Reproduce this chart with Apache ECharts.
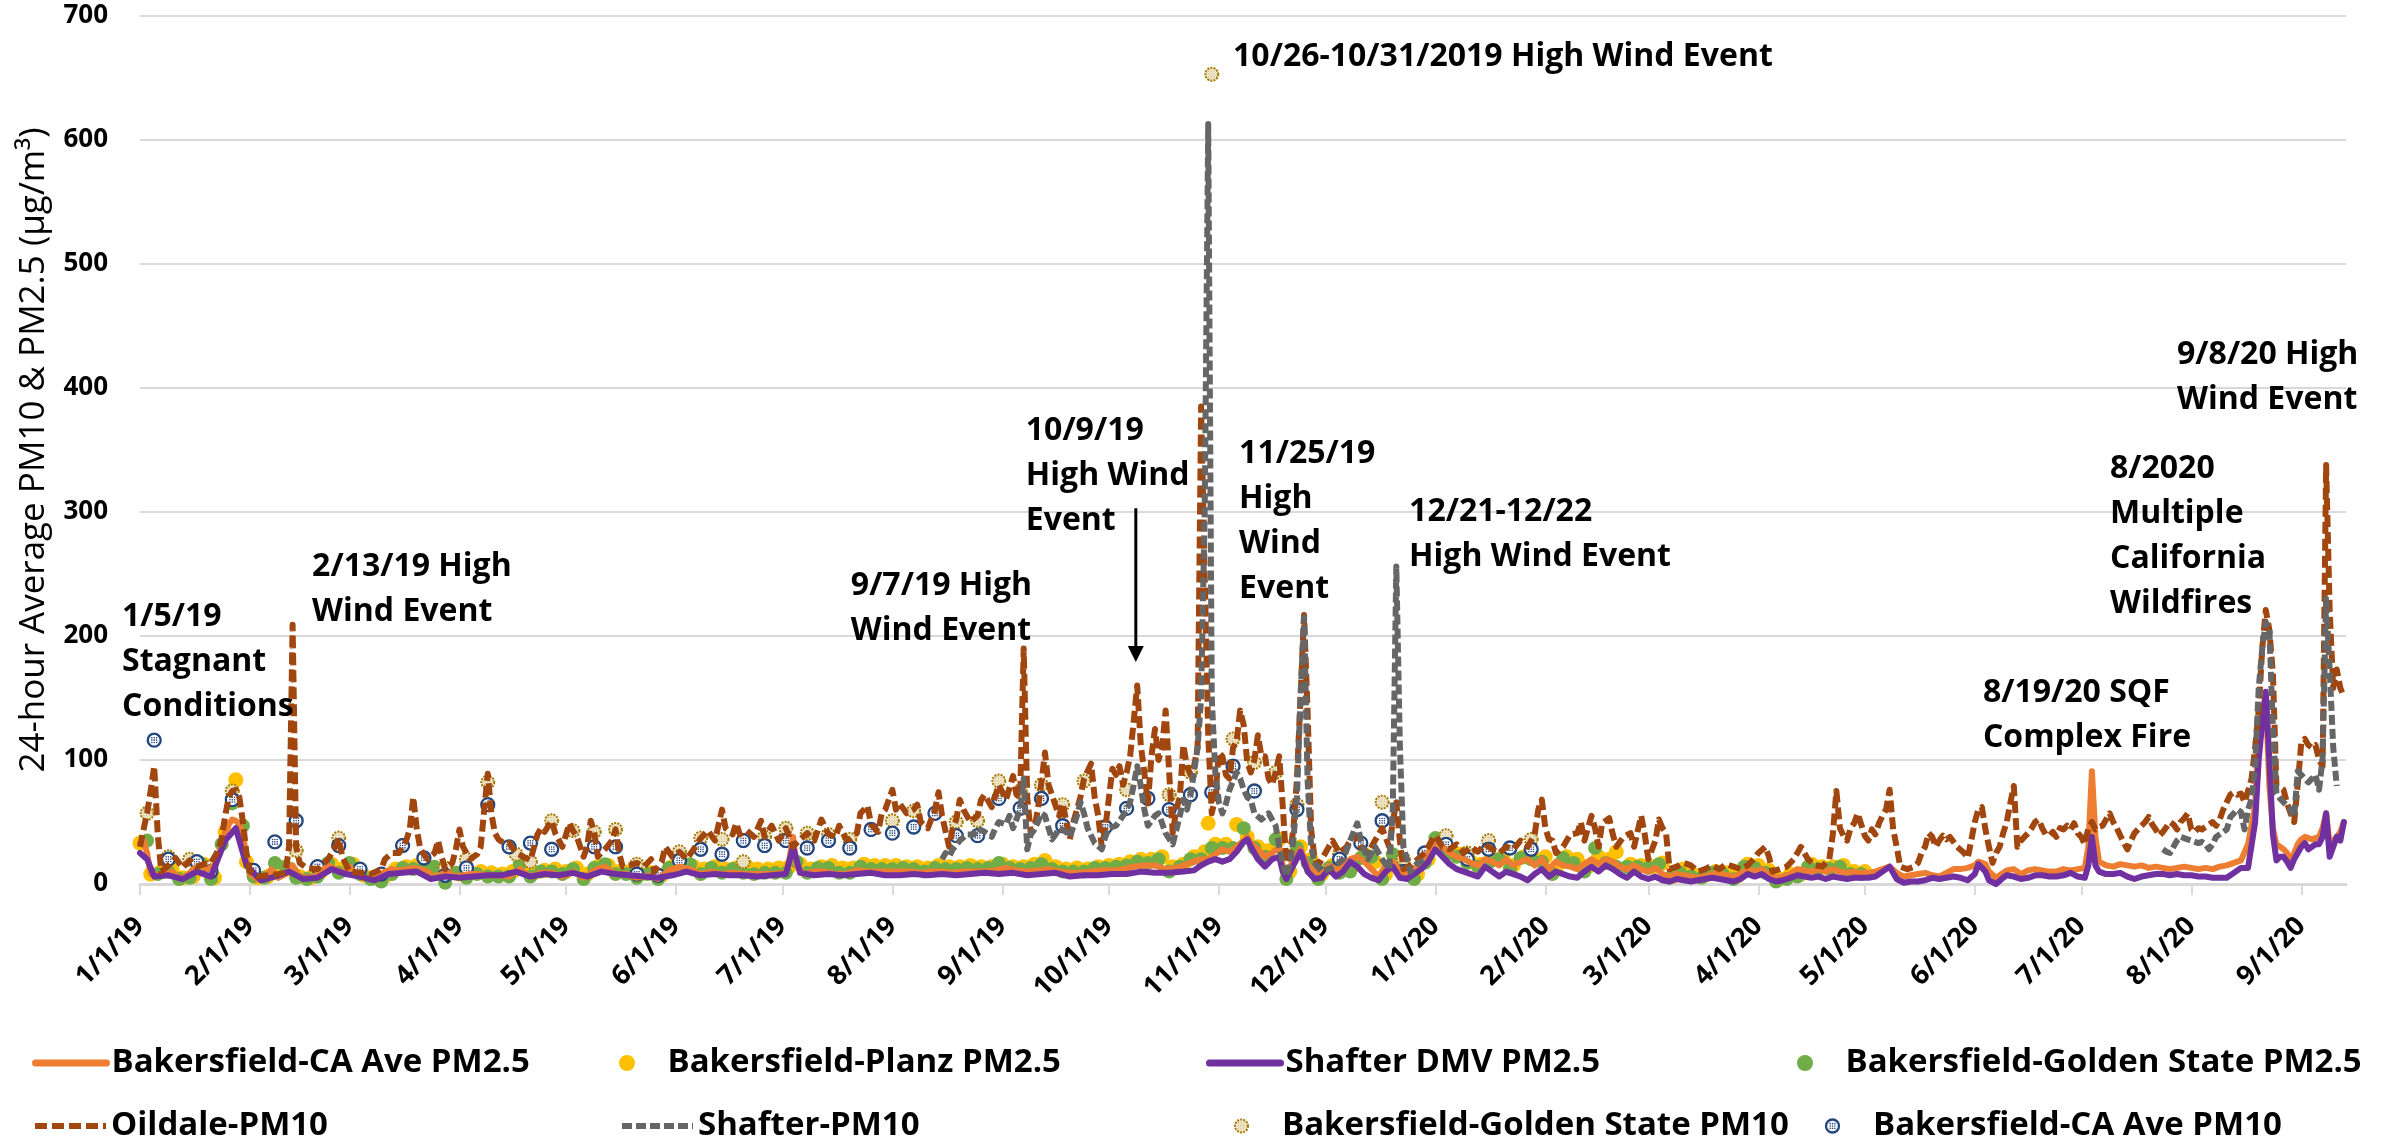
<!DOCTYPE html>
<html><head><meta charset="utf-8">
<script src="https://cdn.jsdelivr.net/npm/echarts@6/dist/echarts.min.js"></script>
<style>html,body{margin:0;padding:0;background:#fff}#c{width:2394px;height:1143px}</style>
</head><body><div id="c"></div>
<script>
// x values: days since 1/1/2019 (day 0 = 1/1/19)
const tickDays = [0,31,59,90,120,151,181,212,243,273,304,334,365,396,425,456,486,517,547,578,609];
const tickLabels = ['1/1/19','2/1/19','3/1/19','4/1/19','5/1/19','6/1/19','7/1/19','8/1/19','9/1/19','10/1/19','11/1/19','12/1/19','1/1/20','2/1/20','3/1/20','4/1/20','5/1/20','6/1/20','7/1/20','8/1/20','9/1/20'];

const caAvePM25 = [[0,33],[1,35],[2,25],[3,8],[5,7],[7,8],[9,10],[11,5],[13,6],[15,12],[17,15],[19,12],[21,15],[22,22],[23,32],[24,42],[25,48],[26,52],[27,51],[28,48],[29,41],[30,20],[31,8],[33,4],[35,5],[37,12],[39,5],[41,8],[43,15],[45,6],[47,5],[49,6],[51,10],[53,15],[55,12],[57,9],[59,14],[61,8],[63,5],[65,5],[67,6],[69,10],[71,12],[73,11],[75,12],[77,13],[79,12],[81,10],[83,5],[85,8],[87,9],[89,6],[91,7],[93,8],[95,8],[98,7],[101,7],[104,6],[107,12],[110,6],[113,9],[116,9],[119,6],[122,10],[125,5],[128,11],[131,14],[134,8],[137,8],[140,5],[143,7],[146,4],[149,11],[152,14],[155,12],[158,8],[161,10],[164,8],[167,9],[170,8],[173,8],[176,8],[179,8],[182,9],[183,20],[184,38],[185,15],[187,8],[190,10],[193,10],[196,8],[199,8],[202,11],[205,10],[208,10],[211,10],[214,10],[217,10],[220,9],[223,10],[226,10],[229,9],[232,10],[235,10],[238,10],[241,11],[244,13],[247,11],[250,10],[253,11],[256,12],[259,10],[262,9],[265,9],[268,10],[271,11],[274,11],[277,12],[280,14],[283,15],[286,15],[289,12],[292,13],[295,16],[297,18],[299,20],[301,20],[303,24],[305,28],[307,26],[309,30],[311,35],[312,38],[313,33],[315,28],[317,22],[319,25],[321,30],[322,15],[323,6],[325,20],[327,28],[329,15],[331,10],[333,8],[335,15],[337,12],[339,14],[341,20],[343,22],[345,18],[347,12],[349,6],[351,15],[353,18],[355,10],[357,8],[359,12],[361,18],[363,25],[365,35],[367,30],[369,25],[371,22],[373,20],[375,17],[377,15],[379,20],[381,18],[383,15],[385,20],[387,15],[389,18],[391,20],[393,15],[395,20],[397,12],[399,18],[401,15],[403,14],[405,12],[407,16],[409,20],[411,16],[413,20],[415,18],[417,14],[419,12],[421,15],[423,12],[425,10],[427,13],[429,8],[431,6],[433,8],[435,7],[437,6],[439,5],[441,6],[443,8],[445,9],[447,7],[449,6],[451,8],[453,12],[455,10],[457,12],[459,7],[461,5],[463,6],[465,8],[467,12],[469,11],[471,10],[473,12],[475,10],[477,12],[479,10],[481,9],[483,10],[485,9],[487,9],[489,10],[491,12],[493,14],[495,9],[497,6],[499,7],[501,8],[503,9],[505,7],[507,6],[509,9],[511,12],[513,12],[515,13],[517,15],[518,18],[520,16],[521,10],[523,5],[525,9],[526,11],[528,12],[530,8],[532,11],[534,12],[536,11],[538,10],[540,10],[542,12],[544,11],[546,12],[548,13],[549,30],[550,91],[551,38],[552,18],[554,15],[556,14],[558,16],[560,15],[562,14],[564,15],[566,13],[568,14],[570,13],[572,12],[574,13],[576,14],[578,13],[580,12],[582,13],[584,12],[586,14],[588,15],[590,17],[592,19],[594,32],[596,63],[597,126],[598,140],[599,151],[600,79],[601,45],[602,32],[603,30],[604,28],[605,25],[606,19],[607,25],[608,32],[609,36],[610,38],[611,37],[612,36],[613,37],[614,38],[615,45],[616,57],[617,32],[618,35],[619,38],[620,42],[621,50]];

const planzPM25 = [[0,33],[3,8],[6,10],[9,12],[12,5],[15,6],[18,16],[21,5],[24,42],[27,84],[30,18],[33,5],[36,6],[39,14],[42,12],[45,6],[48,5],[51,10],[54,16],[57,12],[60,16],[63,7],[66,5],[69,6],[72,12],[75,14],[78,15],[81,12],[84,10],[87,9],[90,8],[93,9],[96,10],[99,9],[102,8],[105,10],[108,14],[111,9],[114,11],[117,12],[120,10],[123,13],[126,8],[129,14],[132,15],[135,10],[138,10],[141,8],[144,9],[147,7],[150,14],[153,16],[156,14],[159,12],[162,14],[165,12],[168,13],[171,14],[174,12],[177,12],[180,13],[183,14],[186,16],[189,12],[192,14],[195,15],[198,13],[201,13],[204,16],[207,15],[210,15],[213,15],[216,14],[219,14],[222,13],[225,15],[228,14],[231,14],[234,15],[237,14],[240,14],[243,16],[246,14],[249,14],[252,16],[255,19],[258,14],[261,12],[264,13],[267,12],[270,14],[273,15],[276,16],[279,18],[282,20],[285,20],[288,22],[291,14],[294,16],[297,22],[300,26],[301,49],[303,32],[306,32],[309,48],[312,38],[315,30],[318,27],[321,36],[324,10],[327,30],[330,20],[333,8],[336,15],[339,12],[342,15],[345,24],[348,18],[351,8],[354,20],[357,10],[360,8],[363,20],[366,30],[369,28],[372,24],[375,18],[378,16],[381,20],[384,22],[387,15],[390,22],[393,20],[396,22],[399,12],[402,22],[405,20],[408,14],[411,22],[414,20],[416,26],[420,16],[423,15],[426,14],[429,17],[432,6],[435,12],[438,7],[441,7],[444,10],[447,9],[450,6],[453,16],[456,15],[459,11],[462,4],[465,8],[468,8],[471,16],[474,14],[477,14],[480,15],[483,10],[486,10]];

const shafterDmvPM25 = [[0,25],[2,20],[4,6],[8,7],[12,4],[16,10],[20,6],[24,35],[27,45],[30,15],[34,3],[38,6],[42,10],[46,4],[50,5],[54,12],[58,8],[62,6],[66,3],[70,8],[74,9],[78,10],[82,4],[86,6],[90,5],[94,6],[98,7],[102,7],[106,10],[110,6],[114,8],[118,7],[122,9],[126,6],[130,10],[134,8],[138,7],[142,6],[146,5],[150,7],[154,10],[158,7],[162,8],[166,7],[170,7],[174,6],[178,7],[182,8],[184,30],[186,9],[190,7],[194,8],[198,7],[202,8],[206,9],[210,7],[214,7],[218,8],[222,7],[226,8],[230,7],[234,8],[238,9],[242,8],[246,9],[250,7],[254,8],[258,9],[262,6],[266,7],[270,7],[274,8],[278,8],[282,10],[286,9],[290,9],[294,10],[297,11],[299,15],[301,18],[303,20],[305,18],[307,20],[309,26],[311,34],[312,36],[313,30],[315,20],[317,14],[319,20],[321,22],[322,10],[323,4],[325,15],[327,26],[329,10],[331,4],[333,5],[335,12],[337,6],[339,10],[341,18],[343,14],[345,8],[347,5],[349,3],[351,10],[353,14],[355,5],[357,4],[359,8],[361,12],[363,18],[365,28],[367,22],[369,16],[371,12],[373,10],[375,8],[377,6],[379,14],[381,10],[383,6],[385,10],[387,8],[389,6],[391,3],[393,8],[395,12],[397,6],[399,10],[401,8],[403,6],[405,5],[407,10],[409,14],[411,10],[413,15],[415,12],[417,8],[419,5],[421,10],[423,6],[425,4],[427,6],[429,3],[431,2],[433,4],[435,3],[437,2],[439,3],[441,4],[443,5],[445,4],[447,3],[449,2],[451,4],[453,8],[455,6],[457,8],[459,4],[461,2],[463,3],[465,5],[467,7],[469,6],[471,5],[473,6],[475,4],[477,6],[479,5],[481,4],[483,5],[485,5],[487,5],[489,6],[491,10],[493,14],[495,4],[497,1],[499,2],[501,2],[503,3],[505,5],[507,4],[509,5],[511,6],[513,5],[515,3],[517,8],[518,16],[520,10],[521,3],[523,0],[525,5],[526,7],[528,6],[530,4],[532,5],[534,7],[536,7],[538,6],[540,6],[542,7],[544,9],[546,6],[548,5],[549,15],[550,38],[551,15],[552,10],[554,8],[556,8],[558,9],[560,6],[562,4],[564,6],[566,7],[568,8],[570,8],[572,7],[574,8],[576,7],[578,7],[580,6],[582,6],[584,5],[586,5],[588,5],[590,9],[592,13],[594,13],[596,50],[597,100],[598,130],[599,155],[600,100],[601,40],[602,19],[603,22],[604,22],[605,18],[606,13],[607,20],[608,25],[609,30],[610,33],[611,28],[612,30],[613,32],[614,32],[615,38],[616,57],[617,22],[618,30],[619,38],[620,35],[621,50]];

const goldenStatePM25 = [[2,35],[5,8],[8,10],[11,4],[14,5],[17,17],[20,4],[23,32],[26,65],[29,47],[32,6],[35,5],[38,17],[41,14],[44,5],[47,4],[50,6],[53,17],[56,9],[59,17],[62,8],[65,4],[68,2],[71,8],[74,13],[77,12],[80,12],[83,14],[86,1],[89,9],[92,5],[95,8],[98,6],[101,6],[104,6],[107,16],[110,6],[113,10],[116,10],[119,8],[122,12],[125,4],[128,13],[131,16],[134,8],[137,8],[140,5],[143,8],[146,4],[149,13],[152,17],[155,16],[158,8],[161,13],[164,9],[167,12],[170,9],[173,8],[176,9],[179,9],[182,9],[185,18],[188,9],[191,13],[194,13],[197,9],[200,9],[203,14],[206,12],[209,12],[212,12],[215,13],[218,12],[221,10],[224,13],[227,12],[230,12],[233,13],[236,12],[239,13],[242,17],[245,13],[248,12],[251,13],[254,16],[257,12],[260,10],[263,10],[266,10],[269,13],[272,13],[275,14],[278,15],[281,18],[284,17],[287,20],[290,10],[293,14],[296,20],[299,20],[302,29],[305,29],[308,29],[311,45],[314,29],[317,22],[320,36],[323,4],[326,29],[329,17],[332,4],[335,13],[338,9],[341,10],[344,21],[347,22],[350,4],[353,24],[356,17],[359,4],[362,17],[365,37],[368,24],[371,22],[374,17],[377,14],[380,17],[383,20],[386,12],[389,21],[392,20],[395,18],[398,8],[401,21],[404,17],[407,10],[410,29],[413,17],[416,14],[419,14],[422,14],[425,13],[428,16],[431,5],[434,9],[437,6],[440,5],[443,9],[446,8],[449,4],[452,14],[455,13],[458,9],[461,2],[464,4],[467,6],[470,14],[473,12],[476,12],[479,14],[482,8],[485,8]];

const oildalePM10 = [[0,30],[1,44],[2,57],[3,75],[4,95],[5,40],[6,10],[8,15],[10,21],[12,13],[14,19],[16,14],[18,16],[20,17],[22,27],[23,37],[24,55],[25,70],[26,75],[27,76],[28,70],[29,50],[30,25],[31,10],[33,6],[36,7],[39,8],[41,9],[42,30],[43,209],[44,30],[45,17],[47,13],[50,12],[53,20],[55,30],[56,37],[57,22],[59,10],[62,9],[65,8],[68,12],[69,20],[71,25],[73,25],[75,35],[76,44],[77,70],[78,44],[79,28],[81,20],[83,25],[84,35],[85,22],[86,12],[88,17],[89,28],[90,44],[91,30],[93,20],[95,24],[96,30],[97,60],[98,89],[99,57],[100,41],[101,36],[103,32],[104,33],[106,25],[108,22],[110,19],[112,40],[113,45],[114,42],[116,51],[117,41],[119,30],[121,49],[122,43],[123,39],[125,22],[126,30],[127,51],[128,42],[129,22],[131,28],[133,35],[134,44],[135,25],[136,14],[138,15],[140,17],[142,14],[144,20],[145,10],[147,18],[148,30],[150,22],[152,26],[154,20],[156,28],[158,37],[160,43],[162,35],[164,60],[165,45],[167,40],[168,49],[169,40],[171,43],[173,38],[175,51],[176,38],[178,47],[180,35],[182,45],[184,30],[186,36],[188,41],[190,35],[192,52],[194,40],[196,38],[197,47],[199,36],[200,36],[202,41],[203,57],[205,63],[206,48],[208,42],[209,57],[210,60],[212,76],[213,60],[214,65],[216,57],[218,60],[219,64],[220,50],[222,45],[224,60],[225,74],[226,55],[228,30],[229,45],[230,52],[231,68],[232,60],[234,50],[236,55],[237,68],[238,72],[240,62],[242,80],[243,74],[244,68],[246,87],[247,72],[248,70],[249,190],[250,70],[251,41],[252,45],[253,60],[254,82],[255,106],[256,80],[258,63],[259,55],[260,65],[262,36],[263,50],[264,60],[265,70],[266,85],[268,97],[269,70],[270,55],[271,30],[272,45],[274,93],[275,88],[276,95],[277,80],[278,90],[279,103],[281,160],[282,112],[283,90],[284,65],[285,103],[286,125],[287,100],[288,110],[289,140],[290,90],[291,41],[292,60],[293,70],[294,112],[295,95],[296,88],[297,95],[298,110],[299,385],[300,250],[301,120],[302,57],[303,70],[304,106],[305,103],[306,88],[307,85],[308,110],[309,115],[310,140],[311,128],[312,98],[313,90],[314,100],[315,120],[316,103],[317,103],[318,85],[319,80],[320,90],[321,103],[322,63],[323,17],[324,25],[325,44],[326,85],[327,150],[328,217],[329,139],[330,44],[331,20],[332,15],[334,25],[336,35],[338,25],[340,30],[342,40],[344,30],[346,25],[348,35],[350,45],[352,30],[353,50],[354,66],[355,35],[356,12],[358,15],[360,20],[362,25],[364,35],[365,39],[367,30],[369,28],[371,32],[373,25],[375,30],[377,26],[379,32],[381,28],[383,25],[385,30],[387,28],[389,35],[391,30],[393,40],[394,60],[395,68],[396,45],[397,36],[398,35],[399,25],[401,30],[403,40],[405,41],[406,50],[407,35],[409,55],[410,45],[411,30],[412,49],[414,53],[415,40],[416,30],[418,38],[420,41],[421,30],[423,55],[424,40],[425,20],[427,35],[428,52],[429,45],[430,41],[431,12],[433,14],[435,17],[437,15],[439,10],[441,12],[443,15],[445,12],[447,16],[449,14],[451,12],[453,15],[455,21],[456,25],[458,30],[459,22],[460,10],[462,12],[464,14],[466,20],[468,30],[470,20],[472,15],[474,14],[476,20],[477,40],[478,75],[479,45],[480,39],[481,35],[482,45],[483,49],[484,57],[485,48],[486,39],[487,35],[488,44],[489,40],[490,49],[491,55],[492,60],[493,76],[494,44],[495,30],[496,14],[498,12],[500,14],[501,17],[502,25],[503,30],[504,41],[505,38],[506,30],[507,35],[508,39],[509,36],[510,38],[512,30],[514,25],[515,21],[516,35],[517,50],[518,60],[519,62],[520,44],[521,30],[522,17],[523,25],[524,30],[525,41],[526,50],[527,65],[528,79],[529,30],[530,35],[531,38],[532,41],[533,45],[534,50],[535,52],[536,45],[537,40],[538,39],[539,42],[540,38],[541,45],[542,44],[543,47],[544,44],[545,49],[546,41],[547,38],[548,32],[549,45],[550,50],[551,44],[552,46],[553,47],[554,52],[555,57],[556,50],[557,45],[558,39],[559,33],[560,28],[561,35],[562,41],[563,44],[564,47],[565,50],[566,54],[567,48],[568,44],[569,39],[570,42],[571,46],[572,50],[573,48],[574,44],[575,50],[576,53],[577,57],[578,44],[579,42],[580,45],[581,44],[582,46],[583,48],[584,50],[585,47],[586,52],[587,60],[588,66],[589,72],[590,74],[591,72],[592,73],[593,66],[594,75],[595,85],[596,110],[597,140],[598,190],[599,221],[600,205],[601,170],[602,79],[603,78],[604,76],[605,65],[606,57],[607,50],[608,80],[609,114],[610,117],[611,112],[612,110],[613,112],[614,100],[615,95],[616,338],[617,221],[618,158],[619,173],[620,158],[621,151]];

const shafterPM10 = [[226,20],[227,25],[228,22],[229,28],[231,35],[233,40],[235,40],[236,45],[238,42],[240,38],[241,45],[242,50],[244,48],[245,55],[246,45],[248,60],[249,85],[250,28],[251,40],[252,44],[253,50],[254,57],[255,55],[256,45],[257,36],[258,40],[259,45],[261,42],[262,38],[264,55],[265,66],[266,57],[267,45],[269,33],[271,28],[272,38],[273,45],[275,47],[277,55],[278,60],[279,66],[280,80],[281,95],[282,79],[283,60],[284,47],[286,55],[287,57],[289,41],[291,32],[293,55],[294,68],[295,60],[296,72],[297,90],[298,110],[299,150],[300,300],[301,613],[302,150],[303,90],[304,66],[305,57],[306,65],[307,76],[309,90],[310,85],[311,76],[312,70],[313,68],[314,57],[316,52],[318,57],[320,47],[321,30],[322,17],[323,6],[324,15],[325,36],[326,70],[327,150],[328,215],[329,84],[330,30],[331,17],[333,10],[335,12],[337,15],[339,20],[341,35],[343,49],[344,35],[346,20],[348,30],[350,20],[352,12],[353,60],[354,256],[355,112],[356,30],[358,10],[360,17],[362,20],[364,null],[570,28],[571,26],[572,25],[573,30],[574,35],[575,38],[576,37],[577,36],[578,35],[579,34],[580,33],[581,34],[582,32],[583,28],[584,32],[585,38],[586,40],[587,42],[588,44],[589,54],[590,57],[591,60],[592,58],[593,44],[594,60],[595,69],[596,95],[597,158],[598,190],[599,211],[600,205],[601,126],[602,73],[603,69],[604,66],[605,63],[606,60],[607,54],[608,91],[609,88],[610,85],[611,82],[612,85],[613,88],[614,76],[615,101],[616,230],[617,173],[618,110],[619,79]];

const goldenStatePM10 = [[2,57],[8,22],[14,20],[20,14],[26,75],[44,27],[56,37],[86,13],[92,20],[98,82],[106,24],[110,18],[116,51],[122,43],[128,42],[134,44],[140,16],[152,26],[158,37],[164,36],[170,18],[176,38],[182,45],[188,41],[194,40],[200,36],[212,51],[218,59],[230,50],[236,51],[242,83],[248,75],[254,80],[260,64],[266,83],[278,76],[290,72],[296,90],[302,653],[308,117],[314,98],[320,90],[326,64],[338,24],[350,66],[356,20],[368,39],[374,25],[380,35],[392,36]];

const caAvePM10 = [[4,116],[8,20],[16,18],[20,10],[26,68],[32,11],[38,34],[44,51],[50,14],[56,31],[62,12],[68,8],[74,31],[80,21],[86,7],[92,13],[98,64],[104,30],[110,33],[116,28],[128,30],[134,30],[140,8],[146,7],[152,19],[158,28],[164,24],[170,35],[176,31],[182,35],[188,29],[194,35],[200,29],[206,44],[212,41],[218,46],[224,57],[230,39],[236,39],[242,69],[248,61],[254,69],[260,47],[272,46],[278,61],[284,69],[290,60],[296,72],[302,74],[308,95],[314,75],[326,60],[332,9],[338,20],[344,33],[350,51],[356,10],[362,25],[368,32],[374,20],[380,28],[386,29],[392,28]];

const notes = [
  {text:'1/5/19\nStagnant\nConditions', day:-5.07, value:233.3},
  {text:'2/13/19 High\nWind Event', day:48.5, value:273.8},
  {text:'9/7/19 High\nWind Event', day:200.3, value:258.5},
  {text:'10/9/19\nHigh Wind\nEvent', day:249.6, value:383.9},
  {text:'10/26-10/31/2019 High Wind Event', day:308.0, value:685.4},
  {text:'11/25/19\nHigh\nWind\nEvent', day:309.7, value:365.4},
  {text:'12/21-12/22\nHigh Wind Event', day:357.6, value:318.4},
  {text:'8/19/20 SQF\nComplex Fire', day:519.3, value:172.6},
  {text:'8/2020\nMultiple\nCalifornia\nWildfires', day:555.1, value:353.2},
  {text:'9/8/20 High\nWind Event', day:574.0, value:444.8}
];
const arrowFrom = [280.6, 303];
const arrowTo = [280.6, 179];

const FONT = "'Open Sans', sans-serif";
const svgUri = s => 'image://data:image/svg+xml;charset=utf-8,' + encodeURIComponent(s);
const caRing = svgUri("<svg xmlns='http://www.w3.org/2000/svg' width='48' height='48' viewBox='0 0 48 48'><circle cx='24' cy='24' r='19.5' fill='#ffffff' stroke='#24467F' stroke-width='7'/><g fill='#24467F'><circle cx='17' cy='17' r='2.4'/><circle cx='24' cy='17' r='2.4'/><circle cx='31' cy='17' r='2.4'/><circle cx='17' cy='24' r='2.4'/><circle cx='24' cy='24' r='2.4'/><circle cx='31' cy='24' r='2.4'/><circle cx='17' cy='31' r='2.4'/><circle cx='24' cy='31' r='2.4'/><circle cx='31' cy='31' r='2.4'/></g></svg>");
const gsRing = svgUri("<svg xmlns='http://www.w3.org/2000/svg' width='48' height='48' viewBox='0 0 48 48'><defs><pattern id='p' width='8' height='8' patternUnits='userSpaceOnUse'><rect width='8' height='8' fill='#ffffff'/><rect x='1' y='1' width='3' height='3' fill='#B38B12'/><rect x='5' y='5' width='3' height='3' fill='#B38B12'/></pattern></defs><circle cx='24' cy='24' r='19.5' fill='url(#p)' stroke='#A67C00' stroke-width='6' stroke-dasharray='6 3.5'/></svg>");

const lineSeries = (name, data, color, width, type) => ({
  name, type:'line', data, showSymbol:false, symbol:'none', connectNulls:false,
  lineStyle:{color, width, type: type || 'solid', cap: type ? 'butt' : 'round', join:'round'},
  itemStyle:{color}, emphasis:{disabled:true}
});
const dotSeries = (name, data, color, size, symbol) => ({
  name, type:'scatter', data, symbol: symbol || 'circle', symbolSize:size, symbolKeepAspect:true,
  itemStyle:{color, opacity:1}, emphasis:{disabled:true}
});

const chart = echarts.init(document.getElementById('c'), null, {renderer:'canvas'});
const legendPos = [
  ['Bakersfield-CA Ave PM2.5', 32, 1045, 7],
  ['Bakersfield-Planz PM2.5', 619, 1045, 0],
  ['Shafter DMV PM2.5', 1206, 1045, 7],
  ['Bakersfield-Golden State PM2.5', 1797, 1045, 0],
  ['Oildale-PM10', 32, 1108, 6],
  ['Shafter-PM10', 619, 1108, 6],
  ['Bakersfield-Golden State PM10', 1206, 1108, 0],
  ['Bakersfield-CA Ave PM10', 1797, 1108, 0]
];
const legends = legendPos.map(([name, left, top, w]) => {
  const l = {
    data:[name], left, top, orient:'horizontal', itemWidth:71, itemHeight:16, itemGap:0,
    selectedMode:false, padding:0,
    textStyle:{fontFamily:FONT, fontWeight:'bold', fontSize:33, color:'#000', lineHeight:36}
  };
  if (w) { l.itemStyle = {opacity:0}; l.lineStyle = {width:w}; }
  return l;
});

const option = {
  animation:false,
  backgroundColor:'#ffffff',
  legend: legends,
  grid:{left:140, right:48, top:16, bottom:259},
  xAxis:{
    type:'value', min:0, max:621.6,
    axisLine:{show:true, onZero:false, lineStyle:{color:'#D9D9D9', width:3}},
    axisTick:{show:true, customValues:tickDays, length:11, lineStyle:{color:'#D9D9D9', width:2}},
    splitLine:{show:false},
    axisLabel:{customValues:tickDays, rotate:45, margin:38, fontFamily:FONT, fontWeight:'bold', fontSize:27, color:'#000',
      formatter: v => { const i = tickDays.indexOf(Math.round(v)); return i >= 0 ? tickLabels[i] : ''; }}
  },
  yAxis:{
    type:'value', min:0, max:700, interval:100,
    axisLine:{show:false}, axisTick:{show:false},
    splitLine:{lineStyle:{color:'#D9D9D9', width:2}},
    axisLabel:{margin:32, fontFamily:FONT, fontWeight:'bold', fontSize:26, color:'#000'},
    name:'24-hour Average PM10 & PM2.5 (µg/m³)', nameLocation:'middle', nameRotate:90, nameGap:88,
    nameTextStyle:{fontFamily:FONT, fontSize:35, color:'#000'}
  },
  series:[
    lineSeries('Bakersfield-CA Ave PM2.5', caAvePM25, '#ED7D31', 6),
    dotSeries('Bakersfield-Planz PM2.5', planzPM25, '#FFC000', 15),
    lineSeries('Shafter DMV PM2.5', shafterDmvPM25, '#7030A0', 6),
    dotSeries('Bakersfield-Golden State PM2.5', goldenStatePM25, '#70AD47', 14),
    lineSeries('Oildale-PM10', oildalePM10, '#A0460E', 6, [12,5]),
    lineSeries('Shafter-PM10', shafterPM10, '#666666', 6, [10,4]),
    dotSeries('Bakersfield-Golden State PM10', goldenStatePM10, '#BF9000', 16, gsRing),
    dotSeries('Bakersfield-CA Ave PM10', caAvePM10, '#24467F', 16, caRing)
  ]
};
chart.setOption(option);

// annotations anchored in data space
const px = p => chart.convertToPixel({gridIndex:0}, p);
const graphics = notes.map(n => {
  const [x, y] = px([n.day, n.value]);
  return {type:'text', left:x, top:y, z:100,
    style:{text:n.text, fontFamily:FONT, fontWeight:'bold', fontSize:32, lineHeight:45, fill:'#000', align:'left', verticalAlign:'top'}};
});
const a0 = px(arrowFrom), a1 = px(arrowTo);
graphics.push({type:'line', z:100, shape:{x1:a0[0], y1:a0[1], x2:a1[0], y2:a1[1]-14}, style:{stroke:'#000', lineWidth:3}});
graphics.push({type:'polygon', z:100, shape:{points:[[a1[0]-8, a1[1]-16],[a1[0]+8, a1[1]-16],[a1[0], a1[1]]]}, style:{fill:'#000'}});
chart.setOption({graphic: graphics});
</script></body></html>
